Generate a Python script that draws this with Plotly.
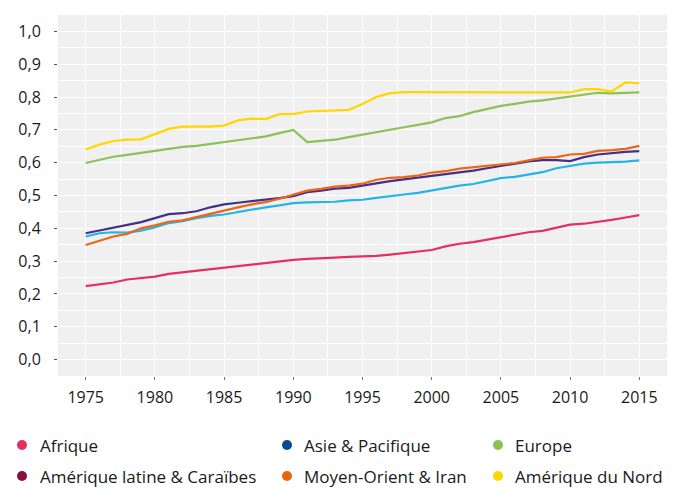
import plotly.graph_objects as go

years = list(range(1975, 2016))

afrique = [0.224, 0.229, 0.235, 0.244, 0.249, 0.253, 0.261, 0.266, 0.271, 0.276,
           0.281, 0.284, 0.289, 0.294, 0.300, 0.304, 0.307, 0.308, 0.311, 0.313,
           0.314, 0.316, 0.320, 0.325, 0.329, 0.334, 0.345, 0.353, 0.358, 0.365,
           0.373, 0.381, 0.388, 0.392, 0.401, 0.411, 0.414, 0.419, 0.426, 0.433, 0.440]

asie_pacifique = [0.375, 0.385, 0.388, 0.387, 0.393, 0.403, 0.416, 0.422, 0.431, 0.438,
                  0.442, 0.450, 0.458, 0.464, 0.470, 0.477, 0.479, 0.480, 0.481, 0.485,
                  0.487, 0.493, 0.499, 0.503, 0.508, 0.515, 0.524, 0.530, 0.535, 0.543,
                  0.553, 0.557, 0.563, 0.571, 0.583, 0.590, 0.597, 0.600, 0.601, 0.603, 0.607]

europe = [0.599, 0.609, 0.618, 0.624, 0.629, 0.636, 0.642, 0.648, 0.651, 0.657,
          0.663, 0.669, 0.675, 0.680, 0.690, 0.700, 0.663, 0.667, 0.670, 0.678,
          0.686, 0.694, 0.702, 0.708, 0.715, 0.723, 0.736, 0.742, 0.754, 0.763,
          0.773, 0.779, 0.786, 0.790, 0.796, 0.802, 0.807, 0.813, 0.811, 0.813, 0.814]

amerique_latine = [0.385, 0.393, 0.401, 0.411, 0.419, 0.431, 0.443, 0.446, 0.452, 0.464,
                   0.473, 0.478, 0.482, 0.487, 0.492, 0.498, 0.510, 0.515, 0.521, 0.523,
                   0.530, 0.539, 0.544, 0.549, 0.554, 0.561, 0.566, 0.570, 0.576, 0.583,
                   0.590, 0.597, 0.604, 0.608, 0.608, 0.605, 0.617, 0.625, 0.630, 0.633, 0.635]

moyen_orient = [0.349, 0.363, 0.375, 0.383, 0.400, 0.409, 0.420, 0.424, 0.434, 0.446,
                0.456, 0.464, 0.473, 0.480, 0.490, 0.502, 0.515, 0.520, 0.527, 0.530,
                0.536, 0.548, 0.554, 0.556, 0.561, 0.570, 0.574, 0.582, 0.586, 0.590,
                0.595, 0.599, 0.607, 0.615, 0.617, 0.625, 0.627, 0.636, 0.638, 0.642, 0.651]

amerique_nord = [0.640, 0.655, 0.666, 0.670, 0.671, 0.688, 0.703, 0.710, 0.710, 0.710,
                 0.713, 0.729, 0.734, 0.733, 0.748, 0.748, 0.756, 0.757, 0.759, 0.761,
                 0.779, 0.800, 0.812, 0.815, 0.815, 0.815, 0.814, 0.814, 0.814, 0.814,
                 0.814, 0.814, 0.814, 0.814, 0.814, 0.814, 0.824, 0.824, 0.817, 0.845, 0.842]

series_names = ["Afrique", "Asie & Pacifique", "Europe",
                "Amérique latine & Caraïbes", "Moyen-Orient & Iran", "Amérique du Nord"]
series_values = [afrique, asie_pacifique, europe, amerique_latine, moyen_orient, amerique_nord]
line_colors = ["#E5305F", "#24B4E8", "#8CC157", "#433088", "#EE6418", "#FFD600"]
legend_colors = ["#E5305F", "#064A91", "#8CC152", "#8A0E3E", "#E8650E", "#FFD700"]

y_ticks = [0.0, 0.1, 0.2, 0.3, 0.4, 0.5, 0.6, 0.7, 0.8, 0.9, 1.0]
x_ticks = [1975, 1980, 1985, 1990, 1995, 2000, 2005, 2010, 2015]

W, H = 675, 489
ML, MR, MT, MB = 58, 8, 15, 113
PW, PH = W - ML - MR, H - MT - MB

fig = go.Figure()
for name, vals, col in zip(series_names, series_values, line_colors):
    fig.add_trace(go.Scatter(x=years, y=vals, mode="lines", name=name,
                             line=dict(color=col, width=2.2), showlegend=False,
                             hoverinfo="x+y+name"))

FONT = "Open Sans"

# manual legend (3 columns x 2 rows)
col_dot_px = [22, 287, 498]
col_txt_px = [38, 302, 513]
row_px = [445, 476]
for i, (name, col) in enumerate(zip(series_names, legend_colors)):
    r, c = divmod(i, 3)
    xd = (col_dot_px[c] - ML) / PW
    yd = (MT + PH - row_px[r]) / PH
    fig.add_shape(type="circle", xref="paper", yref="paper",
                  xsizemode="pixel", ysizemode="pixel",
                  xanchor=xd, yanchor=yd, x0=-5, x1=5, y0=-5, y1=5,
                  fillcolor=col, line=dict(width=0))
    fig.add_annotation(text=name, xref="paper", yref="paper",
                       x=(col_txt_px[c] - ML) / PW, y=yd,
                       xanchor="left", yanchor="middle", showarrow=False,
                       font=dict(family=FONT, size=17, color="#1a1a1a"))

fig.update_layout(
    width=W, height=H,
    margin=dict(l=ML, r=MR, t=MT, b=MB, autoexpand=False),
    paper_bgcolor="white", plot_bgcolor="#F0F0F0",
    separators=", ",
    showlegend=False,
    font=dict(family=FONT, size=16, color="#1a1a1a"),
)
fig.update_xaxes(range=[1973, 2017], tickvals=x_ticks, ticks="outside", ticklen=3,
                 tickcolor="#777", tickwidth=1, ticklabelstandoff=4, automargin=False,
                 showgrid=True, gridcolor="white", gridwidth=1.2,
                 minor=dict(dtick=2.5, tick0=1975, showgrid=True, gridcolor="white", gridwidth=1.2),
                 zeroline=False, showline=False,
                 tickfont=dict(family=FONT, size=16, color="#1a1a1a"))
fig.update_yaxes(range=[-0.05, 1.05], tickvals=y_ticks, tickformat=".1f",
                 ticks="outside", ticklen=3, tickcolor="#555", tickwidth=1,
                 ticklabelstandoff=10, automargin=False,
                 showgrid=True, gridcolor="white", gridwidth=1.2,
                 minor=dict(dtick=0.05, tick0=0, showgrid=True, gridcolor="white", gridwidth=1.2),
                 zeroline=False, showline=False,
                 tickfont=dict(family=FONT, size=16, color="#1a1a1a"))

fig.write_html("out.html", config={"displayModeBar": False},
               post_script="document.body.style.margin='0';document.body.style.overflow='hidden';")
